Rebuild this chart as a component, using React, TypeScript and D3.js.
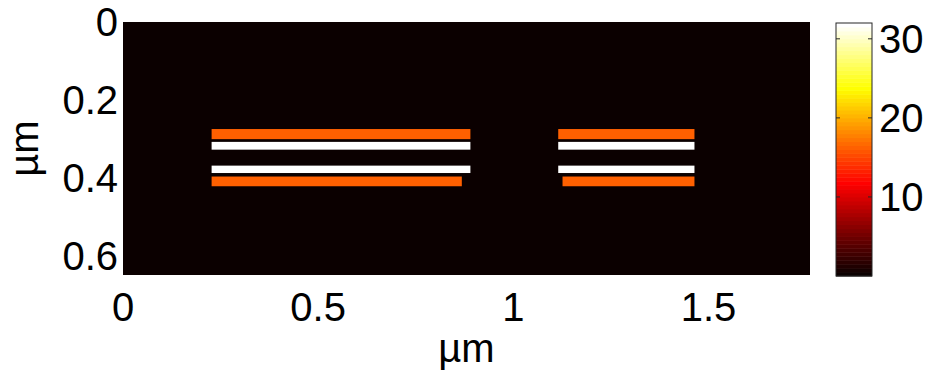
import React from "react";
import * as d3 from "d3";

// Data (µm units)
const xDomain = [0, 1.76];
const yDomain = [0, 0.65];
const cDomain = [0, 32];
const backgroundValue = 0;
const barX0 = [0.227, 0.227, 0.227, 0.227, 1.115, 1.115, 1.115, 1.126];
const barX1 = [0.89, 0.89, 0.89, 0.868, 1.464, 1.464, 1.464, 1.464];
const barY0 = [0.275, 0.308, 0.369, 0.397, 0.275, 0.308, 0.369, 0.397];
const barY1 = [0.301, 0.328, 0.388, 0.422, 0.301, 0.328, 0.388, 0.422];
const barValue = [16.2, 32, 32, 16.2, 16.2, 32, 32, 16.2];
const xTicks = [0, 0.5, 1, 1.5];
const yTicks = [0, 0.2, 0.4, 0.6];
const cTicks = [10, 20, 30];

// MATLAB hot(64)
function hot(t: number): string {
  const m = 64;
  const i = Math.max(0, Math.min(m - 1, Math.floor(t * m)));
  const n = i + 1;
  const cl = (v: number) => Math.max(0, Math.min(1, v));
  const r = cl(n / 24);
  const g = cl((n - 24) / 24);
  const b = cl((n - 48) / 16);
  return d3.rgb(r * 255, g * 255, b * 255).formatHex();
}

export default function App() {
  const W = 931, H = 377;
  const L = 123, R = 810, T = 22, B = 275;
  const x = d3.scaleLinear().domain(xDomain).range([L, R]);
  const y = d3.scaleLinear().domain(yDomain).range([T, B]);
  const cNorm = d3.scaleLinear().domain(cDomain).range([0, 1]).clamp(true);
  const color = (v: number) => hot(cNorm(v));
  const cbL = 836, cbR = 872, cbT = 23, cbB = 276;
  const cy = d3.scaleLinear().domain(cDomain).range([cbB, cbT]);
  const levels = d3.range(64);
  const font = "'Liberation Sans', Arial, Helvetica, sans-serif";
  const fs = 40;

  return (
    <svg width={W} height={H} style={{ position: "absolute", left: 0, top: 0, background: "#fff" }}
      fontFamily={font}>
      <rect x={L} y={T} width={R - L} height={B - T} fill={color(backgroundValue)} />
      {barValue.map((v, i) => (
        <rect key={i} x={x(barX0[i])} y={y(barY0[i])} width={x(barX1[i]) - x(barX0[i])}
          height={y(barY1[i]) - y(barY0[i])} fill={color(v)} />
      ))}
      {xTicks.map((t) => (
        <text key={t} x={x(t)} y={321} fontSize={fs} textAnchor="middle" fill="#000">{String(t)}</text>
      ))}
      {yTicks.map((t) => (
        <text key={t} x={118} y={y(t)} dy="0.35em" fontSize={fs} textAnchor="end" fill="#000">{String(t)}</text>
      ))}
      <text x={(L + R) / 2} y={362} fontSize={fs} textAnchor="middle" fill="#000">µm</text>
      <text transform={`translate(38,${(T + B) / 2}) rotate(-90)`} fontSize={fs} textAnchor="middle" fill="#000">µm</text>
      {/* colorbar */}
      {levels.map((k) => {
        const v0 = cDomain[0] + (k / 64) * (cDomain[1] - cDomain[0]);
        const v1 = cDomain[0] + ((k + 1) / 64) * (cDomain[1] - cDomain[0]);
        return <rect key={k} x={cbL} y={cy(v1)} width={cbR - cbL} height={cy(v0) - cy(v1) + 0.5}
          fill={color((v0 + v1) / 2)} />;
      })}
      <rect x={cbL} y={cbT} width={cbR - cbL} height={cbB - cbT} fill="none" stroke="#262626" strokeWidth={1} />
      {cTicks.map((t) => (
        <g key={t}>
          <line x1={cbL} x2={cbL + 4} y1={cy(t)} y2={cy(t)} stroke="#262626" />
          <line x1={cbR - 4} x2={cbR} y1={cy(t)} y2={cy(t)} stroke="#262626" />
          <text x={879} y={cy(t)} dy="0.35em" fontSize={fs} textAnchor="start" fill="#000">{String(t)}</text>
        </g>
      ))}
    </svg>
  );
}
